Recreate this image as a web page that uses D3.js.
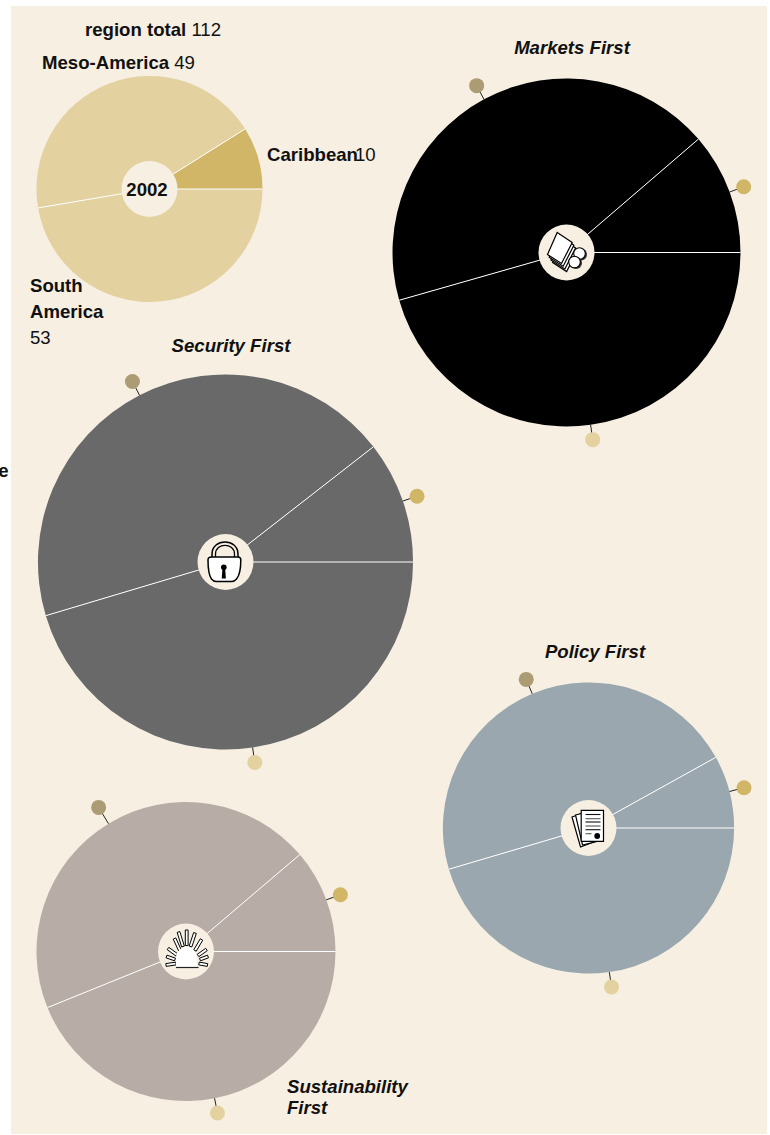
<!DOCTYPE html>
<html>

<head>
    <meta charset="utf-8">
    <style>
        html, body {
            margin: 0;
            padding: 0;
            background: white;
        }

        svg {
            display: block;
            font-family: 'Liberation Sans', Helvetica, Arial, sans-serif;
            font-size: 18.6px;
            fill: #111;
        }

        .lbl { font-weight: bold; }
        .val { font-weight: normal; }
        .scenario-title { font-weight: bold; font-style: italic; }
    </style>
</head>

<body>
    <svg width="770" height="1135"></svg>

    <script src="https://d3js.org/d3.v7.min.js"></script>

    <script>
        // values
        let regions = ["Caribbean", "Meso-America", "South America"]
        let base2002 = [10, 49, 53]

        let scenarios = ["Markets First", "Security First", "Policy First", "Sustainability First"]
        let caribbean = [30, 32.5, 15, 22]
        let mesoAmerica = [114.5, 136, 86.5, 88]
        let southAmerica = [121, 140, 84.5, 86]

        let regionColor = d3.scaleOrdinal().domain(regions).range(["#d0b666", "#e3d1a0", "#e3d1a0"])
        let dotColor = d3.scaleOrdinal().domain(regions).range(["#d0b666", "#ab9c74", "#e3d1a0"])
        let scenarioColor = d3.scaleOrdinal().domain(scenarios).range(["#000000", "#696969", "#9aa7af", "#b8aca7"])

        // pie radius goes with the square root of the total
        let r = d3.scaleSqrt().domain([0, 112]).range([0, 113])

        let pie = d3.pie()
            .sort(null)
            .startAngle(Math.PI / 2)
            .endAngle(Math.PI / 2 - 2 * Math.PI)

        let svg = d3.select("svg")

        svg.append("rect")
            .attr("x", 11).attr("y", 6)
            .attr("width", 756).attr("height", 1128)
            .style("fill", "#f6efe2")

        // the clipped label on the left edge
        svg.append("text").attr("class", "lbl")
            .attr("x", 8.5).attr("y", 477)
            .attr("text-anchor", "end")
            .text("e")

        function drawPie(g, values, fill) {
            let slices = pie(values)
            let outer = r(d3.sum(values))
            let arc = d3.arc().innerRadius(0).outerRadius(outer)

            g.selectAll(".slice")
                .data(slices)
                .join("path")
                .attr("class", "slice")
                .attr("d", arc)
                .style("fill", (d, i) => fill(regions[i]))
                .style("stroke", "none")

            g.selectAll(".sep")
                .data(slices)
                .join("line")
                .attr("class", "sep")
                .attr("x2", d => outer * Math.sin(d.startAngle))
                .attr("y2", d => -outer * Math.cos(d.startAngle))
                .style("stroke", "#fff")
                .style("stroke-width", 1)

            return { slices, outer }
        }

        // gaps: how far each dot sits outside the pie, per region
        function drawDots(g, slices, outer, gaps) {
            let mid = d => (d.startAngle + d.endAngle) / 2
            g.selectAll(".tick-mark")
                .data(slices)
                .join("line")
                .attr("class", "tick-mark")
                .attr("x1", d => outer * Math.sin(mid(d)))
                .attr("y1", d => -outer * Math.cos(mid(d)))
                .attr("x2", (d, i) => (outer + gaps[i] - 3) * Math.sin(mid(d)))
                .attr("y2", (d, i) => -(outer + gaps[i] - 3) * Math.cos(mid(d)))
                .style("stroke", "#222")
                .style("stroke-width", 1)

            g.selectAll(".dot")
                .data(slices)
                .join("circle")
                .attr("class", "dot")
                .attr("cx", (d, i) => (outer + gaps[i]) * Math.sin(mid(d)))
                .attr("cy", (d, i) => -(outer + gaps[i]) * Math.cos(mid(d)))
                .attr("r", 7.5)
                .style("fill", (d, i) => dotColor(regions[i]))
        }

        // icons, drawn around the hub centre
        function paper(g, pts, sw) {
            g.append("polygon")
                .attr("points", pts.map(p => p.join(",")).join(" "))
                .style("fill", "#fff")
                .style("stroke", "#000")
                .style("stroke-width", sw || 1.2)
        }

        function marketsIcon(g) {
            let sheet = [[-9.3, -20], [5.7, -10], [-5, 11], [-19, 2]]
            ;[3, 2, 1, 0].forEach(k => {
                paper(g, sheet.map(p => [p[0] + k * 1.7, p[1] + k * 2.7]))
            })
            ;[[13, 1], [8, 9.5]].forEach(c => {
                g.append("circle").attr("cx", c[0] + 1.5).attr("cy", c[1] + 1).attr("r", 6)
                    .style("fill", "#333")
                g.append("circle").attr("cx", c[0]).attr("cy", c[1]).attr("r", 5.8)
                    .style("fill", "#fff").style("stroke", "#000").style("stroke-width", 1.1)
            })
        }

        function securityIcon(g) {
            g.append("path")
                .attr("d", "M-13.5,-5 V-8 C-13.5,-24 12.5,-24 12.5,-8 V-5")
                .style("fill", "none").style("stroke", "#000").style("stroke-width", 1.5)
            g.append("path")
                .attr("d", "M-10,-5 V-8 C-10,-19.5 9,-19.5 9,-8 V-5")
                .style("fill", "none").style("stroke", "#000").style("stroke-width", 1.3)
            g.append("path")
                .attr("d", "M-14,-5 H12.5 Q15.3,-5 15.3,-2 Q15.3,12 11,17 Q9,19.5 6,19.5 H-9 Q-12,19.5 -14,17 Q-17.5,12 -17.5,-2 Q-17.5,-5 -14,-5 Z")
                .style("fill", "#fff").style("stroke", "#000").style("stroke-width", 1.5)
            g.append("circle").attr("cx", -1.7).attr("cy", 5.3).attr("r", 2.8).style("fill", "#000")
            g.append("path").attr("d", "M-3,6 L-3.8,16.5 H0.4 L-0.4,6 Z").style("fill", "#000")
        }

        function policyIcon(g) {
            paper(g, [[-16.5, -11], [0, -17], [8, 13], [-8, 19]])
            paper(g, [[-13, -13], [3, -17], [10, 13], [-6, 17]])
            paper(g, [[-7.3, -17.7], [15, -17.7], [15, 13.3], [-7.3, 13.3]])
            ;[-13.5, -9.3, -6, -2, 1.7, 5.7].forEach((y, i) => {
                g.append("line")
                    .attr("x1", -3).attr("x2", i == 5 ? 3 : 12)
                    .attr("y1", y).attr("y2", y)
                    .style("stroke", i % 2 ? "#555" : "#111")
                    .style("stroke-width", 1.1)
            })
            g.append("circle").attr("cx", 8.7).attr("cy", 8).attr("r", 2.9).style("fill", "#000")
        }

        function sustainabilityIcon(g) {
            // each ray as tip and foot, from the zoomed crop
            let rays = [
                [[-20, 13.5], [-10, 12]], [[-19.5, 5], [-11, 8]], [[-18, -3], [-9, 3.5]],
                [[-11.5, -13], [-6, -1]], [[-7.5, -19.5], [-3, -5]], [[0.7, -21.5], [0.7, -6]],
                [[9, -18.5], [4.5, -5]], [[15.5, -12], [9, -1]], [[20.5, -2], [12, 4]],
                [[22, 5], [14, 8]], [[21.5, 13.5], [13, 12]]
            ]
            rays.forEach(ray => {
                let dx = ray[1][0] - ray[0][0], dy = ray[1][1] - ray[0][1]
                let len = Math.sqrt(dx * dx + dy * dy)
                let nx = -dy / len * 1.4, ny = dx / len * 1.4
                paper(g, [
                    [ray[0][0] + nx, ray[0][1] + ny], [ray[0][0] - nx, ray[0][1] - ny],
                    [ray[1][0] - nx, ray[1][1] - ny], [ray[1][0] + nx, ray[1][1] + ny]
                ], 1)
            })
            g.append("path")
                .attr("d", "M-10,16 V7 C-10,-8 10.7,-8 10.7,7 V16 Z")
                .style("fill", "#fff")
            g.append("line")
                .attr("x1", -10).attr("x2", 12.5).attr("y1", 16).attr("y2", 16)
                .style("stroke", "#222").style("stroke-width", 1.2)
        }

        let icons = [marketsIcon, securityIcon, policyIcon, sustainabilityIcon]
        let centers = [[566.5, 252.5], [225.5, 562], [588.5, 828], [186, 951.5]]
        let dotGaps = [[15, 15.5, 15], [15, 15.5, 15], [15, 15.5, 15], [15, 19, 15]]
        let titles = [
            { x: 572, y: 54, anchor: "middle", lines: ["Markets First"] },
            { x: 231, y: 352, anchor: "middle", lines: ["Security First"] },
            { x: 595, y: 658, anchor: "middle", lines: ["Policy First"] },
            { x: 287, y: 1093, anchor: "start", lines: ["Sustainability", "First"] }
        ]

        scenarios.forEach((name, i) => {
            let g = svg.append("g").attr("transform", "translate(" + centers[i] + ")")
            let values = [caribbean[i], mesoAmerica[i], southAmerica[i]]
            let p = drawPie(g, values, () => scenarioColor(name))
            drawDots(g, p.slices, p.outer, dotGaps[i])
            g.append("circle").attr("r", 28).style("fill", "#f6efe2")
            icons[i](g)

            let t = svg.append("text")
                .attr("class", "scenario-title")
                .attr("text-anchor", titles[i].anchor)
            titles[i].lines.forEach((line, k) => {
                t.append("tspan")
                    .attr("x", titles[i].x)
                    .attr("y", titles[i].y + k * 21)
                    .text(line)
            })
        })

        // the 2002 reference pie
        let g2002 = svg.append("g").attr("transform", "translate(149.5,189)")
        drawPie(g2002, base2002, regionColor)
        g2002.append("circle").attr("r", 28).style("fill", "#f6efe2")
        g2002.append("text").attr("class", "lbl")
            .attr("text-anchor", "middle").attr("x", -2.5).attr("y", 7)
            .text("2002")

        function label(x, y, name, value) {
            let t = svg.append("text").attr("x", x).attr("y", y)
            t.append("tspan").attr("class", "lbl").text(name)
            t.append("tspan").attr("class", "val").text(" " + value)
        }

        label(85, 36, "region total", d3.sum(base2002))
        label(42, 69, regions[1], base2002[1])

        svg.append("text").attr("class", "lbl").attr("x", 267).attr("y", 161).text(regions[0])
        svg.append("text").attr("class", "val").attr("x", 355).attr("y", 161).text(base2002[0])

        svg.append("text").attr("class", "lbl").attr("x", 30).attr("y", 292).text("South")
        svg.append("text").attr("class", "lbl").attr("x", 30).attr("y", 318).text("America")
        svg.append("text").attr("class", "val").attr("x", 30).attr("y", 344).text(base2002[2])
    </script>
</body>

</html>
